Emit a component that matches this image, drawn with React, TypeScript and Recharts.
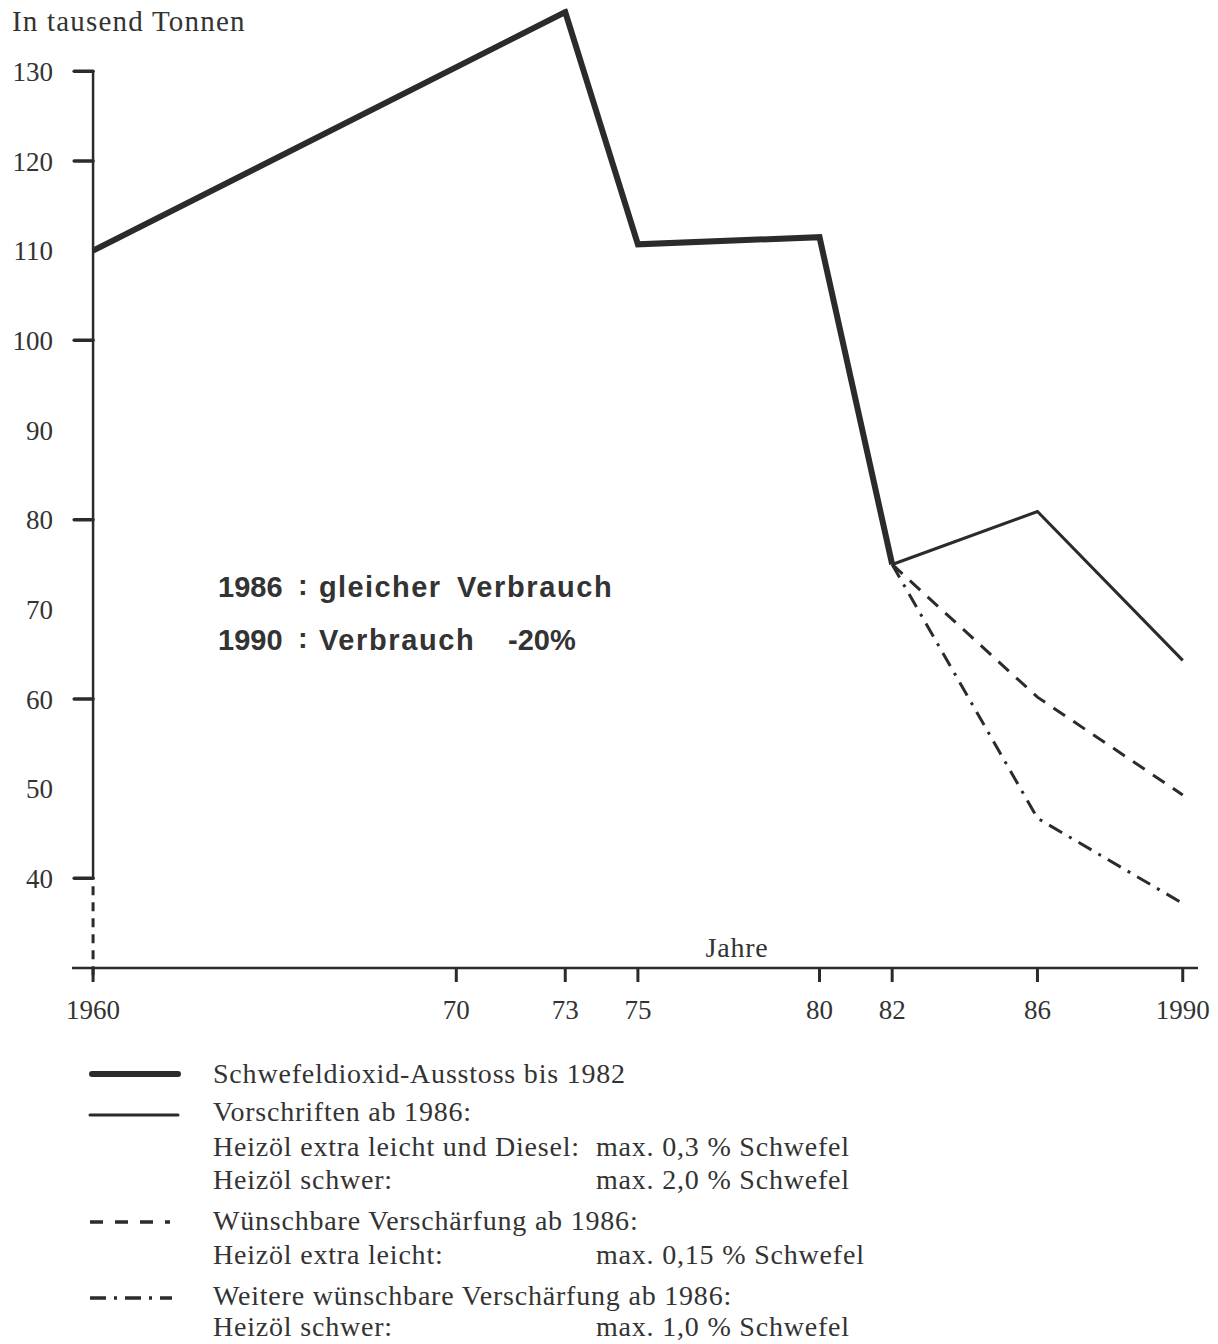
import React from 'react';
import { LineChart, Line, XAxis, YAxis, ReferenceLine } from 'recharts';

// Jahre / Werte in tausend Tonnen SO2
const emissionYears = [1960, 1973, 1975, 1980, 1982];
const emissionValues = [110, 136.6, 110.7, 111.5, 75];

const scenarioYears = [1982, 1986, 1990];
const vorschriftenValues = [75, 80.9, 64.3];
const verschaerfungValues = [75, 60.2, 49.3];
const weitereValues = [75, 46.7, 37.2];

const xTicks = [1960, 1970, 1973, 1975, 1980, 1982, 1986, 1990];
const yTicks = [40, 50, 60, 70, 80, 90, 100, 110, 120, 130];
const yTickMarks = [40, 60, 80, 100, 120, 130];

const ink = '#2b2b2b';
const serif = '"Liberation Serif", "Times New Roman", serif';
const sans = '"Liberation Sans", Arial, sans-serif';

const toRows = (xs: number[], ys: number[]) => xs.map((year, i) => ({ year, value: ys[i] }));

const emissionData = toRows(emissionYears, emissionValues);
const vorschriftenData = toRows(scenarioYears, vorschriftenValues);
const verschaerfungData = toRows(scenarioYears, verschaerfungValues);
const weitereData = toRows(scenarioYears, weitereValues);

const yearLabel = (v: number) => (v === 1960 || v === 1990 ? String(v) : String(v).slice(2));

const legendRows = [
  { text: 'Schwefeldioxid-Ausstoss bis 1982', y: 1083 },
  { text: 'Vorschriften ab 1986:', y: 1121 },
  { text: 'Heizöl extra leicht und Diesel:', y: 1156, max: 'max. 0,3 % Schwefel' },
  { text: 'Heizöl schwer:', y: 1189, max: 'max. 2,0 % Schwefel' },
  { text: 'Wünschbare Verschärfung ab 1986:', y: 1230 },
  { text: 'Heizöl extra leicht:', y: 1264, max: 'max. 0,15 % Schwefel' },
  { text: 'Weitere wünschbare Verschärfung ab 1986:', y: 1305 },
  { text: 'Heizöl schwer:', y: 1336, max: 'max. 1,0 % Schwefel' },
];

export default function App() {
  return (
    <div style={{ position: 'absolute', left: 0, top: 0, width: 1218, height: 1344, background: '#fff', overflow: 'hidden' }}>
      <LineChart
        width={1218}
        height={1040}
        margin={{ top: 8.5, right: 20, bottom: 0, left: 0 }}
      >
        <XAxis
          dataKey="year"
          type="number"
          domain={[1959.42, 1990.42]}
          ticks={xTicks}
          tickFormatter={yearLabel}
          height={72}
          stroke={ink}
          axisLine={{ stroke: ink, strokeWidth: 2.5 }}
          tickLine={{ stroke: ink, strokeWidth: 3 }}
          tickSize={14}
          tickMargin={18}
          tick={{ fill: '#333', fontSize: 27, fontFamily: serif }}
          allowDataOverflow
        />
        <YAxis
          type="number"
          domain={[30, 137]}
          ticks={yTicks}
          width={72}
          axisLine={false}
          tickLine={false}
          tickSize={0}
          tickMargin={19}
          tick={{ fill: '#333', fontSize: 27, fontFamily: serif }}
          allowDataOverflow
        />
        {/* y-Achse: durchgezogen ab 40, darunter gestrichelt */}
        <ReferenceLine
          segment={[{ x: 1960, y: 40 }, { x: 1960, y: 130 }]}
          stroke={ink}
          strokeWidth={2.5}
          ifOverflow="visible"
        />
        <ReferenceLine
          segment={[{ x: 1960, y: 29.2 }, { x: 1960, y: 40 }]}
          stroke={ink}
          strokeWidth={3}
          strokeDasharray="9 7"
          ifOverflow="visible"
        />
        {yTickMarks.map((v) => (
          <ReferenceLine
            key={v}
            segment={[{ x: 1959.48, y: v }, { x: 1960, y: v }]}
            stroke={ink}
            strokeWidth={3.5}
            strokeLinecap="round"
            ifOverflow="visible"
          />
        ))}
        <Line
          data={emissionData}
          dataKey="value"
          type="linear"
          stroke={ink}
          strokeWidth={6}
          strokeLinejoin="miter"
          dot={false}
          activeDot={false}
          isAnimationActive={false}
        />
        <Line
          data={vorschriftenData}
          dataKey="value"
          type="linear"
          stroke={ink}
          strokeWidth={3}
          dot={false}
          activeDot={false}
          isAnimationActive={false}
        />
        <Line
          data={verschaerfungData}
          dataKey="value"
          type="linear"
          stroke={ink}
          strokeWidth={3}
          strokeDasharray="14 10"
          dot={false}
          activeDot={false}
          isAnimationActive={false}
        />
        <Line
          data={weitereData}
          dataKey="value"
          type="linear"
          stroke={ink}
          strokeWidth={3}
          strokeDasharray="15 8 3 8"
          dot={false}
          activeDot={false}
          isAnimationActive={false}
        />
      </LineChart>

      <svg
        width={1218}
        height={1344}
        style={{ position: 'absolute', left: 0, top: 0, pointerEvents: 'none' }}
      >
        <text x={12} y={31} fontFamily={serif} fontSize={29} fill="#333" letterSpacing={1.2}>
          In tausend Tonnen
        </text>
        <text x={737} y={957} textAnchor="middle" fontFamily={serif} fontSize={28} fill="#333" letterSpacing={0.8}>
          Jahre
        </text>

        <g fontFamily={sans} fontWeight="bold" fontSize={29} fill="#333">
          <text x={218} y={597}>1986</text>
          <text x={298} y={595}>:</text>
          <text x={319} y={597} letterSpacing={1.4}>gleicher</text>
          <text x={457} y={597} letterSpacing={1.6}>Verbrauch</text>
          <text x={218} y={650}>1990</text>
          <text x={298} y={648}>:</text>
          <text x={319} y={650} letterSpacing={1.6}>Verbrauch</text>
          <text x={508} y={650}>-20%</text>
        </g>

        <g stroke={ink}>
          <line x1={92} y1={1074} x2={178} y2={1074} strokeWidth={6} strokeLinecap="round" />
          <line x1={90} y1={1115} x2={178} y2={1115} strokeWidth={3} strokeLinecap="round" />
          <line x1={90} y1={1222} x2={170} y2={1222} strokeWidth={3.5} strokeDasharray="13 12" />
          <line x1={90} y1={1298} x2={172} y2={1298} strokeWidth={3.5} strokeDasharray="16 8 3 8" />
        </g>

        <g fontFamily={serif} fontSize={28} fill="#333" letterSpacing={0.8}>
          {legendRows.map((r, i) => (
            <React.Fragment key={i}>
              <text x={213} y={r.y}>{r.text}</text>
              {r.max ? <text x={596} y={r.y}>{r.max}</text> : null}
            </React.Fragment>
          ))}
        </g>
      </svg>
    </div>
  );
}
